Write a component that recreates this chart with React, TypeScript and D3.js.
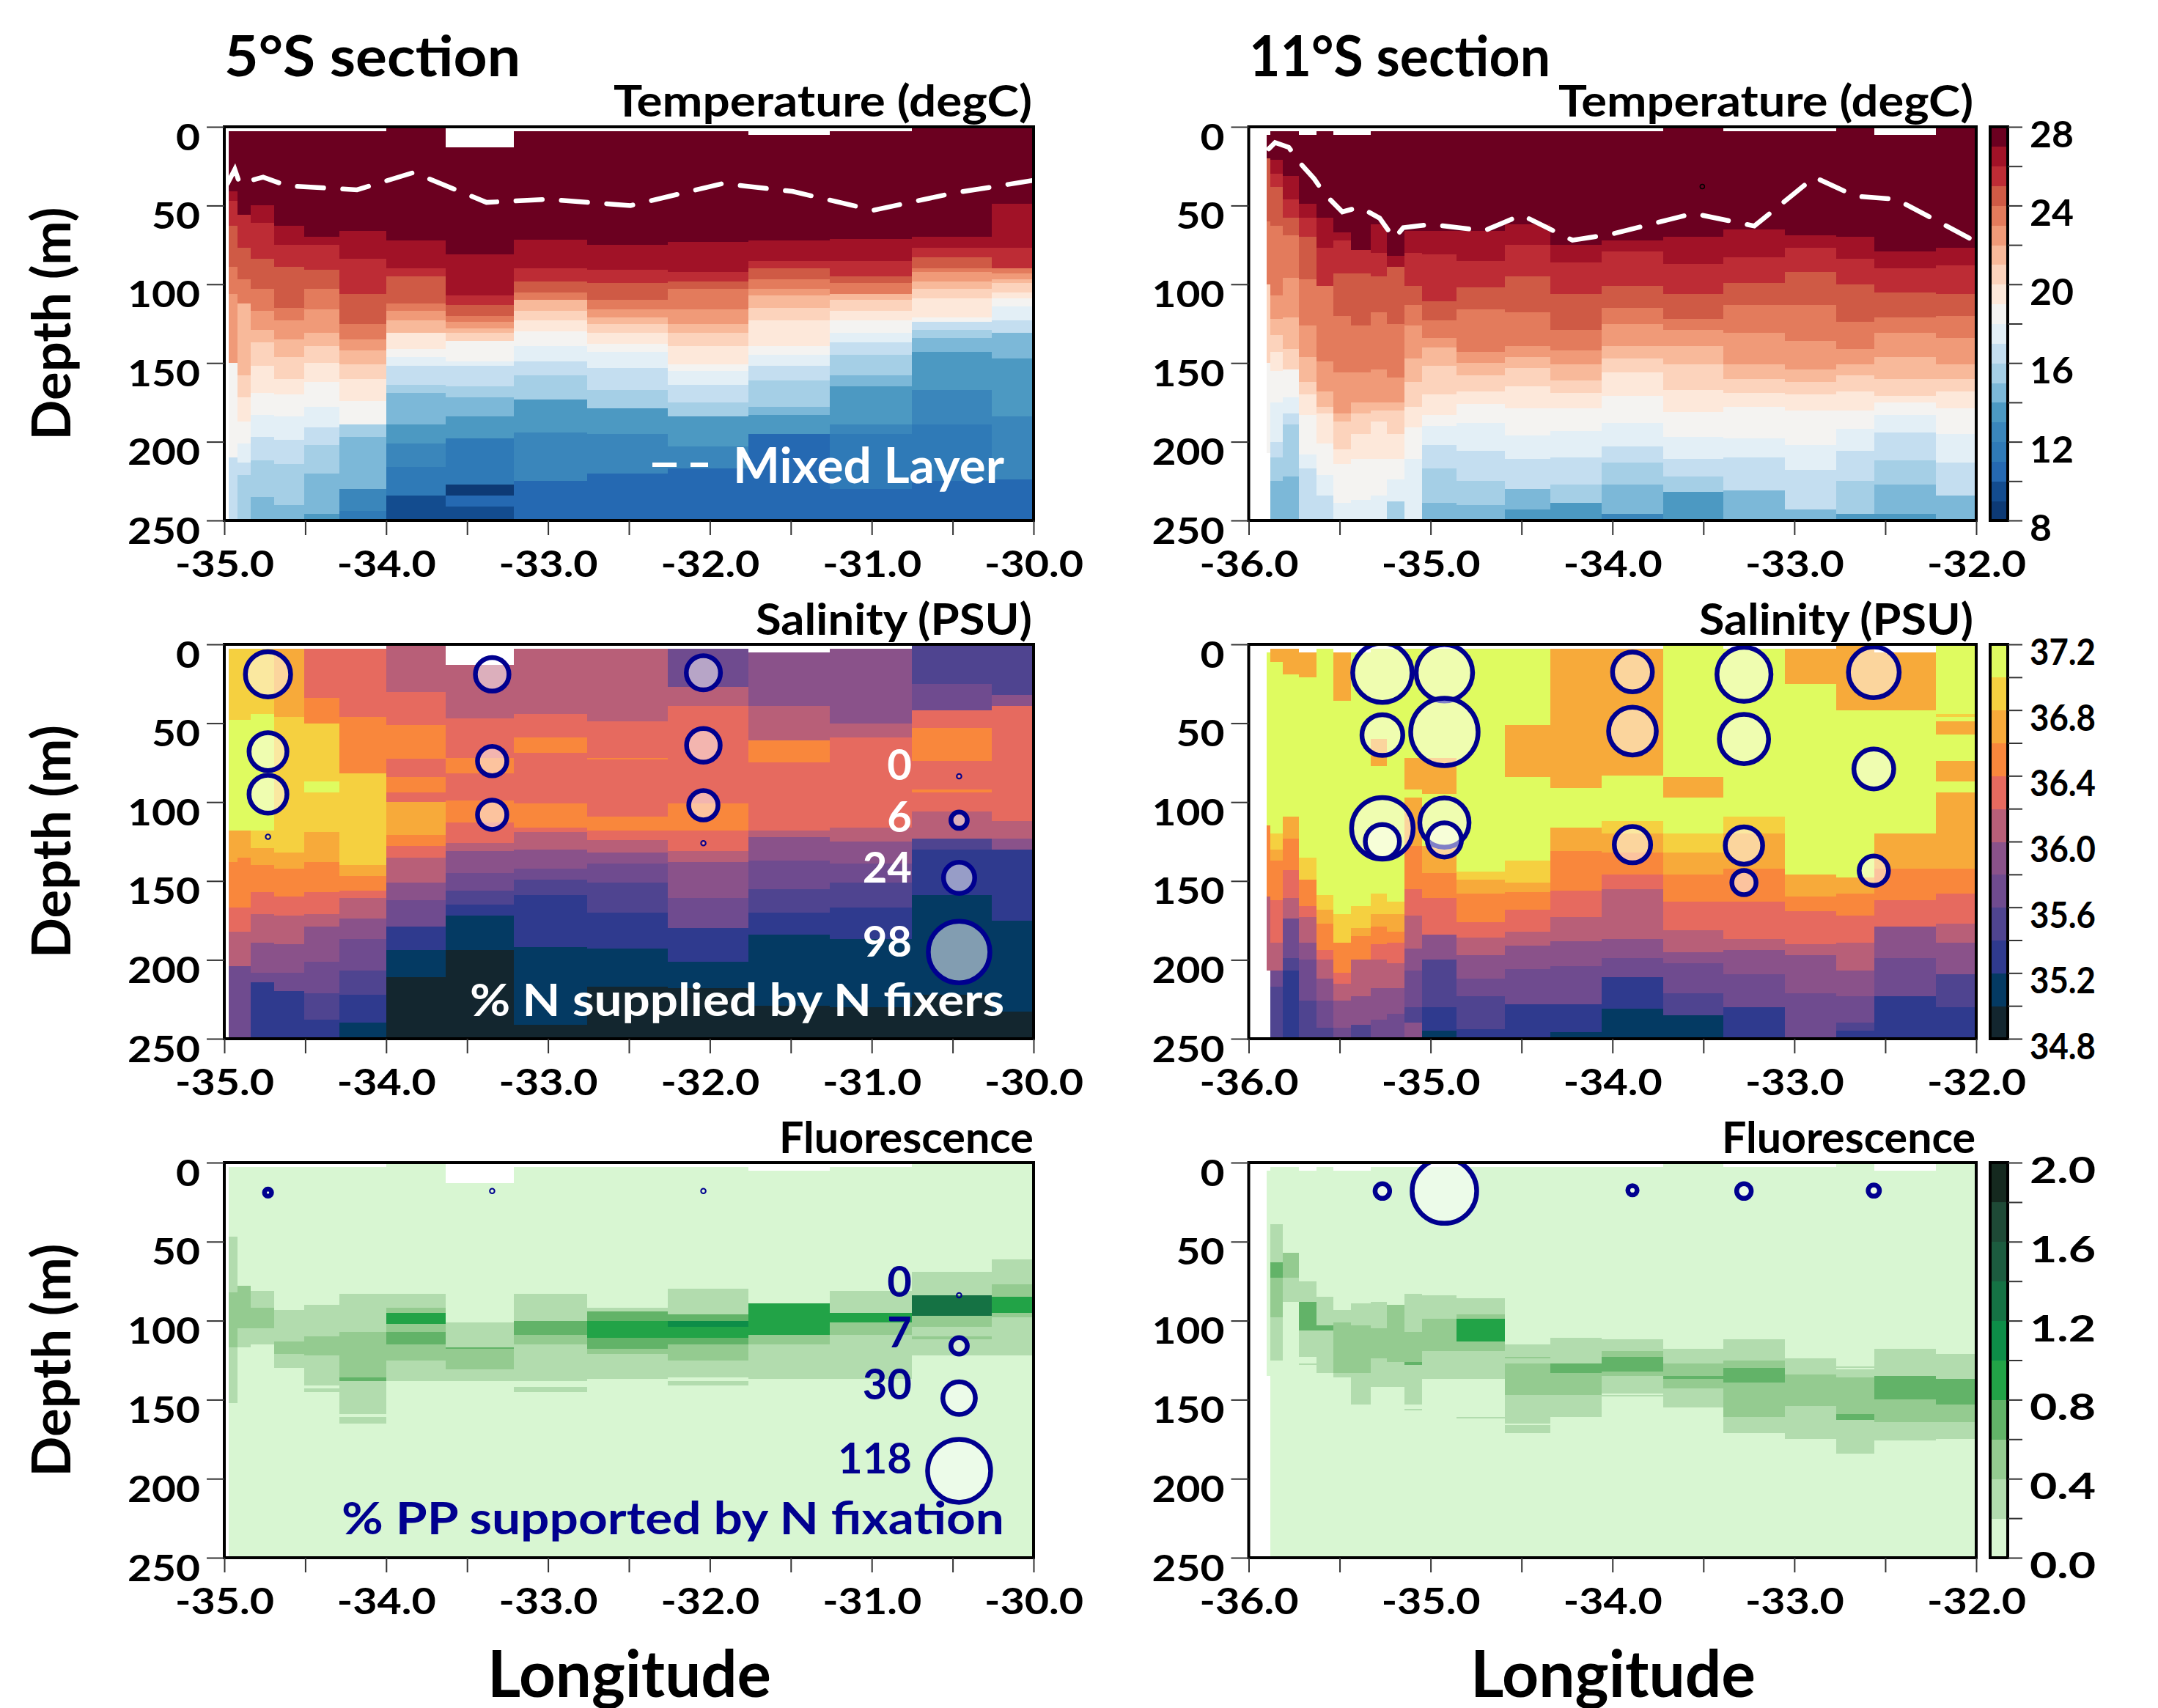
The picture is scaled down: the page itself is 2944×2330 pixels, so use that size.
import React, { useEffect, useRef } from 'react';
import * as d3 from 'd3';

// station column edges (longitude)
const edges5 = [-34.974, -34.92, -34.836, -34.692, -34.506, -34.288, -34, -33.63, -33.21, -32.76, -32.26, -31.76, -31.26, -30.75, -30.26, -30];
const edges11 = [-35.9, -35.88, -35.813, -35.725, -35.627, -35.533, -35.436, -35.33, -35.24, -35.144, -35.047, -34.859, -34.59, -34.34, -34.06, -33.72, -33.39, -33.05, -32.77, -32.56, -32.22, -32];
// shallowest depth sampled in each column
const start5 = [3, 3, 3, 3, 3, 3, 0.5, 13, 3, 3, 3, 5, 3, 0.5, 0.5];
const start11 = [5, 3, 3, 5, 3, 5, 5, 3, 3, 3, 3, 3, 3, 3, 3, 0.5, 3, 3, 0.5, 5, 0.5];

// each column: bottom depth, value, bottom depth, value ...
const temp5 = [
  [41, 27.5, 47, 26.5, 63, 25.5, 89, 24.5, 106, 23.5, 150, 22.5, 210, 18.5, 250, 16.5],
  [56, 27.5, 77, 25.5, 97, 24.5, 112, 23.5, 158, 21.5, 172, 20.5, 187, 19.5, 201, 18.5, 213, 17.5, 221, 16.5, 250, 15.5],
  [50, 27.5, 61, 26.5, 84, 25.5, 103, 24.5, 117, 23.5, 129, 22.5, 137, 21.5, 152, 20.5, 169, 19.5, 183, 18.5, 197, 17.5, 212, 16.5, 235, 15.5, 250, 14.5],
  [63, 27.5, 75, 26.5, 89, 25.5, 115, 24.5, 123, 23.5, 135, 22.5, 146, 21.5, 160, 20.5, 170, 19.5, 184, 18.5, 199, 17.5, 214, 16.5, 240, 15.5, 250, 14.5],
  [70, 27.5, 75, 26.5, 91, 25.5, 103, 24.5, 116, 23.5, 131, 22.5, 139, 21.5, 150, 20.5, 162, 19.5, 178, 18.5, 191, 17.5, 202, 16.5, 220, 15.5, 246, 14.5, 250, 13.5],
  [66, 27.5, 84, 26.5, 106, 25.5, 125, 24.5, 135, 23.5, 142, 22.5, 151, 21.5, 160, 20.5, 174, 19.5, 189, 18.5, 197, 15.5, 230, 14.5, 244, 12.5, 250, 11.5],
  [72, 27.5, 90, 26.5, 95, 25.5, 112, 24.5, 117, 23.5, 123, 22.5, 131, 21.5, 141, 19.5, 146, 18.5, 152, 17.5, 164, 16.5, 169, 15.5, 189, 14.5, 201, 13.5, 216, 12.5, 234, 11.5, 250, 9.5],
  [81, 27.5, 107, 26.5, 113, 25.5, 120, 24.5, 124, 23.5, 128, 22.5, 131, 21.5, 136, 20.5, 149, 18.5, 152, 17.5, 165, 16.5, 172, 15.5, 184, 14.5, 198, 13.5, 227, 11.5, 234, 8.5, 241, 10.5, 250, 9.5],
  [71.5, 27.5, 90, 26.5, 98, 25.5, 105, 24.5, 110, 23.5, 117, 21.5, 123, 20.5, 130, 19.5, 139, 18.5, 149, 17.5, 158, 16.5, 173, 15.5, 194, 13.5, 225, 12.5, 250, 10.5],
  [75, 27.5, 91, 26.5, 99, 25.5, 110, 24.5, 116, 23.5, 121, 22.5, 125, 21.5, 131, 20.5, 138, 19.5, 143, 18.5, 153, 17.5, 167, 16.5, 179, 15.5, 195, 13.5, 220, 12.5, 250, 10.5],
  [73, 27.5, 92, 26.5, 98, 25.5, 103, 24.5, 116, 23.5, 125, 22.5, 131, 21.5, 139, 20.5, 151, 19.5, 155, 18.5, 164, 17.5, 175, 16.5, 184, 15.5, 203, 13.5, 217, 12.5, 250, 10.5],
  [72, 27.5, 85, 26.5, 90, 25.5, 97, 24.5, 103, 23.5, 107, 22.5, 115, 21.5, 123, 20.5, 139, 19.5, 145, 18.5, 152, 17.5, 161, 16.5, 178, 15.5, 183, 14.5, 195, 13.5, 250, 10.5],
  [71, 27.5, 85, 26.5, 95, 25.5, 99, 24.5, 106, 23.5, 110, 21.5, 117, 20.5, 123, 19.5, 131, 18.5, 137, 17.5, 145, 16.5, 158, 15.5, 165, 14.5, 189, 13.5, 195, 12.5, 230, 11.5, 250, 10.5],
  [70, 27.5, 77, 26.5, 83, 25.5, 90, 24.5, 92, 23.5, 98, 22.5, 103, 21.5, 109, 20.5, 121, 19.5, 124, 18.5, 129, 16.5, 134, 15.5, 143, 14.5, 167, 13.5, 189, 12.5, 225, 11.5, 250, 10.5],
  [49, 27.5, 77, 26.5, 90, 25.5, 93, 23.5, 97, 22.5, 99, 21.5, 105, 20.5, 109, 19.5, 114, 18.5, 123, 17.5, 131, 16.5, 147, 14.5, 184, 13.5, 224, 12.5, 250, 10.5],
];
const temp11 = [
  [20, 27.5, 60, 24.5, 100, 23.5, 150, 20.5, 207, 18.5],
  [21, 27.5, 30, 26.5, 38, 25.5, 63, 24.5, 107, 23.5, 122, 22.5, 132, 21.5, 143, 20.5, 155, 19.5, 175, 18.5, 200, 17.5, 210, 16.5, 225, 15.5, 250, 14.5],
  [31, 27.5, 46, 26.5, 57.5, 25.5, 69, 24.5, 96, 23.5, 121, 22.5, 141, 21.5, 154, 20.5, 172, 18.5, 182, 17.5, 189, 16.5, 222, 15.5, 250, 14.5],
  [49, 27.5, 57.5, 26.5, 70, 25.5, 97, 24.5, 126, 23.5, 146, 22.5, 162, 21.5, 170, 20.5, 183, 19.5, 208, 18.5, 217, 17.5, 250, 16.5],
  [57.5, 27.5, 77, 26.5, 101, 25.5, 149, 23.5, 168, 22.5, 178, 21.5, 182, 20.5, 201, 19.5, 221, 18.5, 234, 17.5, 250, 16.5],
  [67, 27.5, 72, 26.5, 93, 25.5, 120, 24.5, 156, 23.5, 182, 22.5, 187, 21.5, 205, 20.5, 214, 19.5, 239, 18.5, 250, 17.5],
  [78, 27.5, 93, 25.5, 126, 24.5, 156, 23.5, 175, 22.5, 182, 21.5, 195, 20.5, 211, 19.5, 237, 18.5, 250, 17.5],
  [62, 27.5, 80, 26.5, 95, 25.5, 118, 24.5, 154, 23.5, 175, 22.5, 180, 21.5, 187, 20.5, 211, 19.5, 234, 18.5, 250, 17.5],
  [82, 27.5, 89, 26.5, 125, 24.5, 159, 23.5, 175, 22.5, 180, 21.5, 195, 20.5, 211, 19.5, 224, 18.5, 238, 17.5, 250, 15.5],
  [66, 27.5, 80, 26.5, 101, 25.5, 113, 24.5, 126, 23.5, 147, 22.5, 162, 21.5, 178, 20.5, 191, 19.5, 211, 18.5, 250, 17.5],
  [66, 27.5, 81, 26.5, 111, 25.5, 123, 24.5, 134, 23.5, 140, 22.5, 152, 21.5, 170, 20.5, 183, 19.5, 190, 18.5, 202, 17.5, 217, 16.5, 239, 15.5, 250, 14.5],
  [66, 27.5, 85, 26.5, 102, 25.5, 116, 24.5, 143, 23.5, 150, 22.5, 158, 21.5, 168, 20.5, 176, 19.5, 188, 18.5, 206, 17.5, 225, 16.5, 240, 15.5, 250, 14.5],
  [62, 27.5, 75, 26.5, 95, 25.5, 118, 24.5, 139, 23.5, 146, 22.5, 153, 21.5, 165, 20.5, 179, 19.5, 196, 18.5, 211, 17.5, 230, 16.5, 243, 14.5, 250, 13.5],
  [75, 27.5, 86, 26.5, 106, 25.5, 129, 24.5, 142, 23.5, 151, 22.5, 161, 21.5, 169, 20.5, 179, 19.5, 193, 18.5, 210, 17.5, 227, 16.5, 239, 15.5, 250, 13.5],
  [72, 27.5, 79, 26.5, 101, 25.5, 115, 24.5, 125, 23.5, 139, 22.5, 147, 21.5, 156, 20.5, 171, 19.5, 188, 18.5, 203, 17.5, 213, 16.5, 227, 15.5, 246, 14.5, 250, 12.5],
  [70, 27.5, 87, 26.5, 106, 25.5, 122, 24.5, 129, 23.5, 139, 22.5, 151, 21.5, 167, 20.5, 181, 19.5, 197, 18.5, 211, 17.5, 222, 16.5, 232, 15.5, 250, 13.5],
  [65, 27.5, 83, 26.5, 99, 25.5, 113, 24.5, 131, 23.5, 151, 22.5, 160, 21.5, 169, 20.5, 178, 19.5, 198, 18.5, 210, 17.5, 231, 16.5, 250, 14.5],
  [69, 27.5, 77, 26.5, 92, 25.5, 113, 24.5, 136, 23.5, 154, 22.5, 162, 21.5, 170, 20.5, 180, 19.5, 202, 18.5, 218, 17.5, 243, 16.5, 250, 14.5],
  [70, 27.5, 84, 26.5, 100, 25.5, 124, 24.5, 141, 23.5, 151, 22.5, 158, 21.5, 168, 20.5, 180, 19.5, 192, 18.5, 206, 17.5, 225, 16.5, 246, 15.5, 250, 13.5],
  [79, 27.5, 90, 26.5, 105, 25.5, 121, 24.5, 131, 23.5, 146, 22.5, 160, 21.5, 171, 20.5, 175, 19.5, 183, 18.5, 194, 17.5, 212, 16.5, 227, 15.5, 246, 14.5, 250, 13.5],
  [77, 27.5, 88, 26.5, 106, 25.5, 120, 24.5, 134, 23.5, 151, 22.5, 160, 21.5, 168, 20.5, 179, 19.5, 195, 18.5, 213, 17.5, 234, 16.5, 250, 14.5],
];
const sal5 = [
  [48, 36.9, 118, 37.1, 138, 36.7, 167, 36.5, 182, 36.3, 204, 36.1, 250, 35.7],
  [48, 36.9, 118, 37.1, 135, 36.7, 167, 36.5, 182, 36.3, 204, 36.1, 250, 35.7],
  [44, 36.9, 118, 37.1, 129, 36.9, 140, 36.7, 157, 36.5, 171, 36.3, 189, 36.1, 208, 35.9, 214, 35.7, 250, 35.3],
  [46, 36.7, 118, 37, 132, 36.9, 142, 36.7, 160, 36.5, 172, 36.3, 190, 36.1, 208, 35.9, 220, 35.7, 250, 35.3],
  [34, 36.3, 50, 36.5, 87, 36.9, 94, 37.1, 119, 36.9, 138, 36.7, 157, 36.5, 171, 36.3, 179, 36.1, 201, 35.9, 221, 35.7, 238, 35.5, 250, 35.3],
  [46, 36.3, 82, 36.5, 140, 36.9, 147, 36.7, 156, 36.5, 161, 36.3, 174, 36.1, 187, 35.9, 207, 35.7, 222, 35.5, 240, 35.3, 250, 35.1],
  [30, 36.1, 51, 36.3, 72.5, 36.5, 84, 36.3, 94, 36.5, 100, 36.3, 121, 36.7, 128, 36.5, 135, 36.3, 151, 36.1, 162, 35.9, 179, 35.7, 194, 35.3, 211, 35.1, 250, 34.9],
  [47, 36.1, 72, 36.3, 82, 36.5, 99, 36.3, 113, 36.5, 126, 36.3, 131, 36.1, 145, 35.9, 156, 35.7, 165, 35.5, 172, 35.3, 194, 35.1, 250, 34.9],
  [44, 36.1, 59, 36.3, 69, 36.5, 101, 36.3, 116, 36.5, 119, 36.3, 130, 36.1, 142, 35.9, 149, 35.7, 159, 35.5, 192, 35.3, 241, 35.1, 250, 34.9],
  [49, 36.1, 72, 36.3, 73, 36.5, 109, 36.3, 118, 36.5, 124, 36.3, 132, 36.1, 139, 35.9, 151, 35.7, 170, 35.5, 193, 35.3, 217, 35.1, 250, 34.9],
  [27, 35.7, 39, 36.1, 101, 36.3, 118, 36.5, 131, 36.3, 138, 36.1, 161, 35.9, 180, 35.7, 201, 35.3, 218, 35.1, 250, 34.9],
  [39, 35.9, 61, 36.1, 75, 36.5, 118, 36.3, 122, 36.1, 137, 35.9, 155, 35.7, 170, 35.5, 184, 35.3, 229, 35.1, 250, 34.9],
  [50, 35.9, 59, 36.1, 116, 36.3, 125, 36.1, 139, 35.9, 151, 35.7, 167, 35.5, 187, 35.3, 230, 35.1, 250, 34.9],
  [25, 35.5, 42, 35.7, 53, 36.3, 74, 36.5, 92, 36.3, 94, 36.5, 106, 36.3, 123, 36.1, 130, 35.5, 159, 35.3, 222, 35.1, 250, 34.9],
  [32, 35.5, 39, 35.9, 112, 36.3, 123, 36.1, 130, 35.9, 175, 35.3, 233, 35.1, 250, 34.9],
];
const sal11 = [
  [115, 37.1, 160, 36.5, 207, 36.1],
  [11, 36.7, 120, 37.1, 130, 36.9, 137, 36.7, 162, 36.5, 189, 36.3, 207, 36.1, 217, 35.7, 250, 35.5],
  [19, 36.7, 109, 37.1, 123, 36.7, 143, 36.5, 161, 36.3, 174, 36.1, 199, 35.7, 207, 35.5, 250, 35.3],
  [21, 36.7, 135, 37.1, 149, 36.9, 166, 36.5, 173, 36.3, 189, 36.1, 200, 35.9, 226, 35.7, 250, 35.5],
  [159, 37.1, 168, 36.9, 177, 36.7, 194, 36.5, 200, 36.3, 212, 36.1, 226, 35.9, 243, 35.7, 250, 35.5],
  [36, 36.7, 171, 37.1, 189, 36.9, 208, 36.5, 215, 36.3, 226, 36.1, 243, 35.9, 250, 35.7],
  [166, 37.1, 180, 36.9, 185, 36.7, 200, 36.5, 223, 36.1, 241, 35.9, 250, 35.5],
  [60, 37.1, 77, 36.7, 158, 37.1, 171, 36.9, 179, 36.7, 190, 36.5, 200, 36.3, 218, 36.1, 238, 35.9, 250, 35.7],
  [163, 37.1, 171, 36.9, 182, 36.7, 189, 36.5, 202, 36.3, 218, 36.1, 234, 35.9, 250, 35.7],
  [72, 37.1, 92, 36.7, 97, 37.1, 128, 36.7, 155, 36.5, 172, 36.3, 193, 36.1, 207, 35.9, 230, 35.7, 240, 35.5, 250, 35.9],
  [72, 37.1, 95, 36.7, 128, 37.1, 145, 36.7, 161, 36.5, 184, 36.3, 200, 35.9, 230, 35.5, 245, 35.3, 250, 35.1],
  [144, 37.1, 149, 36.9, 158, 36.7, 176, 36.5, 186, 36.3, 197, 36.1, 212, 35.9, 223, 35.7, 244, 35.5, 250, 35.3],
  [51, 37.1, 84, 36.7, 137, 37.1, 151, 36.9, 157, 36.7, 168, 36.5, 182, 36.3, 191, 36.1, 206, 35.9, 228, 35.7, 250, 35.3],
  [91, 36.7, 116, 37.1, 131, 36.7, 156, 36.5, 173, 36.3, 188, 36.1, 204, 35.9, 228, 35.7, 246, 35.3, 250, 35.1],
  [83, 36.7, 112, 37.1, 120, 36.9, 132, 36.7, 146, 36.5, 155, 36.3, 187, 36.1, 199, 35.9, 211, 35.7, 231, 35.3, 250, 35.1],
  [84, 37.1, 97, 36.7, 120, 37.1, 132, 36.9, 146, 36.7, 163, 36.5, 181, 36.3, 195, 36.1, 202, 35.9, 221, 35.7, 235, 35.5, 250, 35.1],
  [109, 37.1, 120, 36.9, 142, 36.7, 163, 36.5, 187, 36.3, 194, 36.1, 209, 35.9, 230, 35.7, 250, 35.3],
  [25, 36.7, 146, 37.1, 160, 36.7, 169, 36.5, 190, 36.3, 197, 36.1, 221, 35.9, 250, 35.7],
  [42, 36.7, 148, 37.1, 158, 36.7, 172, 36.5, 189, 36.3, 207, 36.1, 223, 35.9, 240, 35.7, 245, 35.5, 250, 35.3],
  [42, 36.7, 120, 37.1, 142, 36.7, 162, 36.5, 179, 36.3, 199, 35.9, 223, 35.7, 250, 35.3],
  [44, 37.1, 46, 36.9, 49, 37.1, 57, 36.7, 74, 37.1, 87, 36.7, 94, 37.1, 142, 36.7, 158, 36.5, 177, 36.3, 189, 36.1, 209, 35.9, 230, 35.5, 250, 35.3],
];
const fluo5 = [
  [47, 0.1, 82, 0.3, 117, 0.5, 152, 0.3, 250, 0.1],
  [78, 0.1, 105, 0.5, 117, 0.3, 250, 0.1],
  [81, 0.1, 92, 0.3, 105, 0.5, 115, 0.3, 250, 0.1],
  [93, 0.1, 113, 0.3, 121, 0.5, 130, 0.3, 250, 0.1],
  [90, 0.1, 110, 0.3, 122, 0.5, 141, 0.3, 143, 0.1, 145, 0.3, 250, 0.1],
  [83, 0.1, 107, 0.3, 136, 0.5, 138, 0.7, 159, 0.3, 161, 0.1, 165, 0.3, 250, 0.1],
  [83, 0.1, 92, 0.3, 95, 0.5, 102, 0.9, 107, 0.5, 115, 0.7, 125, 0.5, 138, 0.3, 250, 0.1],
  [101, 0.1, 117, 0.3, 118, 0.7, 131, 0.5, 138, 0.3, 250, 0.1],
  [83, 0.1, 100, 0.3, 109, 0.7, 115, 0.5, 138, 0.3, 142, 0.1, 145, 0.3, 250, 0.1],
  [92, 0.1, 94, 0.3, 100, 0.7, 111, 0.9, 118, 0.7, 121, 0.5, 137, 0.3, 250, 0.1],
  [80, 0.1, 96, 0.3, 100, 0.7, 104, 1.1, 111, 0.9, 115, 0.7, 125, 0.5, 136, 0.3, 138, 0.1, 141, 0.3, 250, 0.1],
  [89, 0.1, 95, 0.9, 109, 0.9, 115, 0.5, 137, 0.3, 250, 0.1],
  [81, 0.1, 95, 0.3, 101, 0.9, 109, 0.5, 137, 0.3, 250, 0.1],
  [69, 0.1, 84, 0.3, 97, 1.3, 104, 0.5, 110, 0.3, 112, 0.5, 122, 0.3, 250, 0.1],
  [61, 0.1, 77, 0.3, 85, 0.5, 95, 0.9, 98, 0.5, 122, 0.3, 250, 0.1],
];
const fluo11 = [
  [135, 0.1],
  [39, 0.1, 63, 0.3, 73, 0.7, 98, 0.5, 125, 0.3, 250, 0.1],
  [57, 0.1, 73, 0.5, 88, 0.3, 250, 0.1],
  [75, 0.1, 88, 0.3, 106, 0.7, 123, 0.3, 127, 0.1, 128, 0.3, 250, 0.1],
  [85, 0.1, 103, 0.3, 106, 0.7, 133, 0.3, 250, 0.1],
  [93, 0.1, 101, 0.3, 133, 0.5, 136, 0.3, 250, 0.1],
  [89, 0.1, 103, 0.3, 133, 0.5, 153, 0.3, 250, 0.1],
  [88, 0.1, 105, 0.3, 124, 0.5, 142, 0.3, 250, 0.1],
  [90, 0.1, 126, 0.5, 142, 0.3, 250, 0.1],
  [83, 0.1, 107, 0.3, 126, 0.5, 128, 0.7, 153, 0.3, 156, 0.1, 157, 0.3, 250, 0.1],
  [84, 0.1, 99, 0.3, 119, 0.5, 137, 0.3, 250, 0.1],
  [86, 0.1, 96, 0.3, 99, 0.5, 113, 0.9, 119, 0.5, 137, 0.3, 161, 0.1, 162, 0.3, 250, 0.1],
  [115, 0.1, 123, 0.3, 124, 0.5, 127, 0.3, 147, 0.5, 165, 0.3, 166, 0.1, 171, 0.3, 250, 0.1],
  [111, 0.1, 127, 0.3, 133, 0.7, 147, 0.5, 161, 0.3, 250, 0.1],
  [112, 0.1, 119, 0.3, 123, 0.5, 132, 0.7, 135, 0.5, 146, 0.3, 147, 0.1, 148, 0.3, 250, 0.1],
  [118, 0.1, 127, 0.3, 135, 0.5, 137, 0.7, 143, 0.5, 155, 0.3, 250, 0.1],
  [112, 0.1, 125, 0.3, 130, 0.5, 139, 0.7, 161, 0.5, 171, 0.3, 250, 0.1],
  [124, 0.1, 134, 0.3, 154, 0.5, 175, 0.3, 250, 0.1],
  [129, 0.1, 130, 0.3, 131, 0.1, 136, 0.3, 159, 0.5, 163, 0.7, 184, 0.3, 250, 0.1],
  [118, 0.1, 135, 0.3, 150, 0.7, 164, 0.5, 176, 0.3, 250, 0.1],
  [121, 0.1, 137, 0.3, 153, 0.7, 164, 0.5, 175, 0.3, 250, 0.1],
];

// mixed layer depth: longitude, depth
const mixedLon5 = [-34.98, -34.935, -34.905, -34.76, -34.61, -34.18, -33.83, -33.38, -33, -32.49, -31.92, -31.49, -30.99, -30.49, -30];
const mixedDepth5 = [36, 27, 36, 32, 37.5, 40, 29, 48, 46, 50, 36, 41, 53, 42, 34];
const mixedLon11 = [-35.89, -35.855, -35.78, -35.71, -35.64, -35.58, -35.485, -35.39, -35.28, -35.2, -35.15, -35, -34.705, -34.5, -34.22, -34, -33.555, -33.22, -32.89, -32.665, -32.44, -32];
const mixedDepth11 = [14, 10, 13, 24, 33, 43, 54, 51, 58, 71, 64, 62, 66, 56, 72, 68, 55, 63, 32, 44, 46, 73];

// bubbles: longitude, depth, value
const nSupply5 = [
  [-34.73, 19, 52], [-34.73, 68, 36], [-34.73, 95, 36], [-34.73, 122, 0],
  [-33.345, 19, 28], [-33.345, 74, 21], [-33.345, 108, 21],
  [-32.04, 18, 29], [-32.04, 64, 28], [-32.04, 102, 21], [-32.04, 126, 0],
];
const nSupply11 = [
  [-35.265, 18, 91], [-35.265, 57.5, 42], [-35.265, 116.6, 98], [-35.265, 125, 29],
  [-34.924, 18, 82], [-34.924, 55.5, 118], [-34.924, 113, 62], [-34.924, 124, 29],
  [-33.89, 17.5, 40], [-33.89, 55, 58], [-33.89, 127, 33],
  [-33.277, 19, 75], [-33.277, 60, 62], [-33.277, 127.5, 35], [-33.277, 151, 14],
  [-32.563, 17.7, 66], [-32.563, 79, 40], [-32.563, 143.5, 21],
];
const ppShare5 = [[-34.73, 19, 1], [-33.345, 18, 0], [-32.04, 18, 0]];
const ppShare11 = [[-35.265, 18, 5.4], [-34.924, 18, 124], [-33.89, 17.5, 1.9], [-33.277, 18, 5.4], [-32.563, 17.7, 3]];

// bubble size keys: value, circle depth, label depth
const nSupplyKey = [[0, 83.6, 77], [6, 111.5, 110], [24, 148, 142], [98, 195, 189]];
const ppShareKey = [[0, 84, 76], [7, 116, 108], [30, 149, 141], [118, 195, 188]];
const keyLon = -30.46;

const strayPoint = [-33.506, 38];

const depthTicks = [0, 50, 100, 150, 200, 250];
const tempLabels = [8, 12, 16, 20, 24, 28];
const salLabels = [34.8, 35.2, 35.6, 36.0, 36.4, 36.8, 37.2];
const fluoLabels = [0, 0.4, 0.8, 1.2, 1.6, 2.0];

const tempPalette = ['#0d3a75', '#134c8f', '#2569b2', '#2f7ab7', '#3a86bb', '#4c99c2', '#7cb8d8', '#a5cfe6', '#c4def0', '#e3eff6',
  '#f4f3f1', '#fde8da', '#fcd3bc', '#f8b99a', '#f09a78', '#e37b5c', '#cf5a45', '#bd2c35', '#a11227', '#6b0020'];
const salPalette = ['#13262f', '#043a63', '#2f3a8e', '#4f4490', '#6f4b8f', '#8a528a', '#b85f78', '#e66a5f', '#f9873c', '#f7aa3a', '#f5d040', '#dffb60'];
const fluoPalette = ['#d8f6d2', '#b2dcae', '#94cb90', '#62b368', '#22a347', '#0d8d48', '#157244', '#1c5c3f', '#1e4a36', '#15291f'];

const tempColor = d3.scaleQuantize<string>().domain([8, 28]).range(tempPalette);
const salColor = d3.scaleQuantize<string>().domain([34.8, 37.2]).range(salPalette);
const fluoColor = d3.scaleQuantize<string>().domain([0, 2]).range(fluoPalette);

const FONT = 'Lato, sans-serif';
const NAVY = '#00008f';

const leftCol = { x: 306, w: 1104, domain: [-35, -30], edges: edges5, starts: start5 };
const rightCol = { x: 1703.5, w: 992.5, domain: [-36, -32], edges: edges11, starts: start11 };
const rows = [{ y: 173, h: 537 }, { y: 879, h: 538 }, { y: 1586, h: 539 }];

const Label = ({ x, y, w, size, fill = '#000', rotate, anchor = 'start', children }: any) => (
  <text
    x={x}
    y={y}
    fontFamily={FONT}
    fontWeight={700}
    fontSize={size}
    fill={fill}
    textAnchor={anchor}
    textLength={w}
    lengthAdjust="spacingAndGlyphs"
    transform={rotate ? `rotate(${rotate} ${x} ${y})` : undefined}
  >
    {children}
  </text>
);

const Bubbles = ({ data, rScale, xScale, yScale }: any) => (
  <g>
    {data.map((d: number[], i: number) => (
      <circle
        key={i}
        cx={xScale(d[0])}
        cy={yScale(d[1])}
        r={rScale(d[2])}
        fill="#fff"
        fillOpacity={0.5}
        stroke={NAVY}
        strokeWidth={6.5}
      />
    ))}
  </g>
);

const Panel = ({ col, row, columns, color, mixed, id, children }: any) => {
  const xRef = useRef<SVGGElement>(null);
  const yRef = useRef<SVGGElement>(null);
  const xScale = d3.scaleLinear().domain(col.domain).range([col.x, col.x + col.w]);
  const yScale = d3.scaleLinear().domain([0, 250]).range([row.y, row.y + row.h]);

  useEffect(() => {
    const xTicks = d3.range(col.domain[0], col.domain[1] + 0.01, 0.5);
    const xAxis = d3.axisBottom(xScale)
      .tickValues(xTicks)
      .tickSize(20)
      .tickSizeOuter(0)
      .tickPadding(21)
      .tickFormat((v: any) => (Number.isInteger(v) ? v.toFixed(1) : ''));
    const gx = d3.select(xRef.current!).call(xAxis as any);
    gx.select('.domain').remove();
    gx.selectAll('line').attr('stroke', '#333').attr('stroke-width', 2);
    gx.selectAll('text')
      .attr('font-family', FONT)
      .attr('font-weight', 700)
      .attr('font-size', 50)
      .attr('fill', '#000')
      .attr('textLength', (d: any) => (Number.isInteger(d) ? 135 : null))
      .attr('lengthAdjust', 'spacingAndGlyphs');

    const yAxis = d3.axisLeft(yScale).tickValues(depthTicks).tickSize(24).tickSizeOuter(0).tickPadding(9);
    const gy = d3.select(yRef.current!).call(yAxis as any);
    gy.select('.domain').remove();
    gy.selectAll('line').attr('stroke', '#333').attr('stroke-width', 2);
    gy.selectAll('text')
      .attr('font-family', FONT)
      .attr('font-weight', 700)
      .attr('font-size', 50)
      .attr('fill', '#000')
      .attr('dy', '0.62em')
      .attr('textLength', (d: any) => String(d).length * 33)
      .attr('lengthAdjust', 'spacingAndGlyphs');
  }, []);

  const line = d3.line<number>()
    .x((d) => xScale(mixed.lon[d]))
    .y((d) => yScale(mixed.depth[d]));

  return (
    <g>
      <clipPath id={id}>
        <rect x={col.x} y={row.y} width={col.w} height={row.h} />
      </clipPath>
      <g clipPath={`url(#${id})`}>
        {columns.map((c: number[], i: number) => {
          const bands = [];
          let top = col.starts[i];
          for (let k = 0; k < c.length; k += 2) {
            bands.push(
              <rect
                key={k}
                x={xScale(col.edges[i])}
                width={xScale(col.edges[i + 1]) - xScale(col.edges[i])}
                y={yScale(top)}
                height={yScale(c[k]) - yScale(top)}
                fill={color(c[k + 1])}
                shapeRendering="crispEdges"
              />
            );
            top = c[k];
          }
          return <g key={i}>{bands}</g>;
        })}
        {mixed && (
          <path
            d={line(d3.range(mixed.lon.length)) as string}
            fill="none"
            stroke="#fff"
            strokeWidth={6.5}
            strokeDasharray="36 26"
            strokeLinecap="round"
          />
        )}
        {children && children(xScale, yScale)}
      </g>
      <rect x={col.x} y={row.y} width={col.w} height={row.h} fill="none" stroke="#000" strokeWidth={4} />
      <g ref={xRef} transform={`translate(0,${row.y + row.h})`} />
      <g ref={yRef} transform={`translate(${col.x},0)`} />
    </g>
  );
};

const ColorBar = ({ row, domain, palette, labels, step, digits }: any) => {
  const ref = useRef<SVGGElement>(null);
  const x0 = 2715;
  const barW = 24;
  const scale = d3.scaleLinear().domain(domain).range([row.y + row.h, row.y]);
  const n = palette.length;
  const cellH = row.h / n;

  useEffect(() => {
    const ticks = d3.range(domain[0], domain[1] + step / 2, step);
    const axis = d3.axisRight(scale)
      .tickValues(ticks)
      .tickSize(20)
      .tickSizeOuter(0)
      .tickPadding(10)
      .tickFormat((v: any) => (labels.some((l: number) => Math.abs(l - v) < 1e-6) ? v.toFixed(digits) : ''));
    const g = d3.select(ref.current!).call(axis as any);
    g.select('.domain').remove();
    g.selectAll('line').attr('stroke', '#333').attr('stroke-width', 2);
    g.selectAll('text')
      .attr('font-family', FONT)
      .attr('font-weight', 700)
      .attr('font-size', 50)
      .attr('fill', '#000')
      .attr('dy', '0.55em')
      .attr('textLength', (d: any) => (labels.some((l: number) => Math.abs(l - d) < 1e-6) ? (digits === 0 ? (d < 10 ? 30 : 60) : 90) : null))
      .attr('lengthAdjust', 'spacingAndGlyphs');
  }, []);

  return (
    <g>
      {palette.map((c: string, i: number) => (
        <rect key={i} x={x0} y={row.y + row.h - (i + 1) * cellH} width={barW} height={cellH + 0.5} fill={c} shapeRendering="crispEdges" />
      ))}
      <rect x={x0} y={row.y} width={barW} height={row.h} fill="none" stroke="#000" strokeWidth={4} />
      <g ref={ref} transform={`translate(${x0 + barW},0)`} />
    </g>
  );
};

export default function App() {
  const rN = d3.scaleSqrt().domain([0, 98]).range([1, 42]);
  const rP = d3.scaleSqrt().domain([0, 118]).range([1, 43]);
  const mixed5 = { lon: mixedLon5, depth: mixedDepth5 };
  const mixed11 = { lon: mixedLon11, depth: mixedDepth11 };
  const colCx = (c: any) => c.x + c.w;

  return (
    <svg width={2944} height={2330} style={{ position: 'absolute', left: 0, top: 0, background: '#fff' }}>
      <Panel id="p1" col={leftCol} row={rows[0]} columns={temp5} color={tempColor} mixed={mixed5} />
      <Panel id="p2" col={rightCol} row={rows[0]} columns={temp11} color={tempColor} mixed={mixed11}>
        {(x: any, y: any) => <circle cx={x(strayPoint[0])} cy={y(strayPoint[1])} r={3} fill="none" stroke="#000" strokeWidth={1.5} />}
      </Panel>
      <Panel id="p3" col={leftCol} row={rows[1]} columns={sal5} color={salColor}>
        {(x: any, y: any) => (
          <g>
            <Bubbles data={nSupply5} rScale={rN} xScale={x} yScale={y} />
            <Bubbles data={nSupplyKey.map((k) => [keyLon, k[1], k[0]])} rScale={rN} xScale={x} yScale={y} />
          </g>
        )}
      </Panel>
      <Panel id="p4" col={rightCol} row={rows[1]} columns={sal11} color={salColor}>
        {(x: any, y: any) => <Bubbles data={nSupply11} rScale={rN} xScale={x} yScale={y} />}
      </Panel>
      <Panel id="p5" col={leftCol} row={rows[2]} columns={fluo5} color={fluoColor}>
        {(x: any, y: any) => (
          <g>
            <Bubbles data={ppShare5} rScale={rP} xScale={x} yScale={y} />
            <Bubbles data={ppShareKey.map((k) => [keyLon, k[1], k[0]])} rScale={rP} xScale={x} yScale={y} />
          </g>
        )}
      </Panel>
      <Panel id="p6" col={rightCol} row={rows[2]} columns={fluo11} color={fluoColor}>
        {(x: any, y: any) => <Bubbles data={ppShare11} rScale={rP} xScale={x} yScale={y} />}
      </Panel>

      <ColorBar row={rows[0]} domain={[8, 28]} palette={tempPalette} labels={tempLabels} step={2} digits={0} />
      <ColorBar row={rows[1]} domain={[34.8, 37.2]} palette={salPalette} labels={salLabels} step={0.2} digits={1} />
      <ColorBar row={rows[2]} domain={[0, 2]} palette={fluoPalette} labels={fluoLabels} step={0.2} digits={1} />

      <Label x={306} y={104} w={404} size={76}>5°S section</Label>
      <Label x={1704} y={104} w={411} size={76}>11°S section</Label>

      <Label x={colCx(leftCol) - 2} y={159} w={571} size={60} anchor="end">Temperature (degC)</Label>
      <Label x={colCx(rightCol) - 4} y={159} w={566} size={60} anchor="end">Temperature (degC)</Label>
      <Label x={colCx(leftCol) - 2} y={866} w={377} size={60} anchor="end">Salinity (PSU)</Label>
      <Label x={colCx(rightCol) - 4} y={866} w={374} size={60} anchor="end">Salinity (PSU)</Label>
      <Label x={colCx(leftCol)} y={1573} w={347} size={60} anchor="end">Fluorescence</Label>
      <Label x={colCx(rightCol) - 1} y={1573} w={346} size={60} anchor="end">Fluorescence</Label>

      {rows.map((r, i) => (
        <Label key={i} x={96} y={r.y + r.h / 2 + 159} w={318} size={72} rotate={-90}>Depth (m)</Label>
      ))}
      <Label x={665} y={2315} w={387} size={88}>Longitude</Label>
      <Label x={2006} y={2315} w={389} size={88}>Longitude</Label>

      <Label x={1000} y={659} w={370} size={66} fill="#fff">Mixed Layer</Label>
      <line x1={890} x2={923} y1={634} y2={634} stroke="#fff" strokeWidth={6} />
      <line x1={942} x2={966} y1={634} y2={634} stroke="#fff" strokeWidth={6} />
      <Label x={641} y={1386} w={729} size={62} fill="#fff">% N supplied by N fixers</Label>
      <Label x={466} y={2093} w={904} size={62} fill={NAVY}>% PP supported by N fixation</Label>

      {nSupplyKey.map((k, i) => (
        <Label key={i} x={1244} y={rows[1].y + (k[2] / 250) * rows[1].h + 19} size={58} fill="#fff" anchor="end">{k[0]}</Label>
      ))}
      {ppShareKey.map((k, i) => (
        <Label key={i} x={1244} y={rows[2].y + (k[2] / 250) * rows[2].h + 19} size={58} fill={NAVY} anchor="end">{k[0]}</Label>
      ))}
    </svg>
  );
}
